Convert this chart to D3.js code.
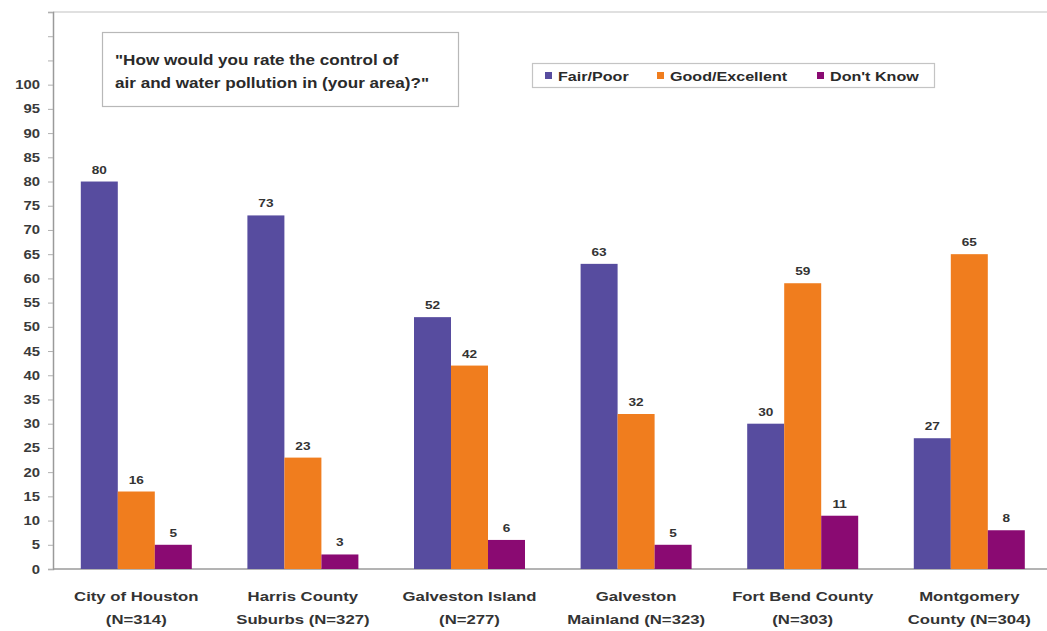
<!DOCTYPE html>
<html>
<head>
<meta charset="utf-8">
<script src="https://cdn.jsdelivr.net/npm/d3@7/dist/d3.min.js"></script>
<style>
  html, body { margin: 0; padding: 0; background: #fff; }
  svg { display: block; }
  text { font-family: "Liberation Sans", Arial, sans-serif; font-weight: bold; }
</style>
</head>
<body>
<svg id="chart" width="1047" height="631"></svg>
<script>
// Survey regions, two-line labels under each group
const categories = ["City of Houston", "Harris County Suburbs", "Galveston Island",
                    "Galveston Mainland", "Fort Bend County", "Montgomery County"];
const categoryLines = [
  ["City of Houston", "(N=314)"],
  ["Harris County", "Suburbs (N=327)"],
  ["Galveston Island", "(N=277)"],
  ["Galveston", "Mainland (N=323)"],
  ["Fort Bend County", "(N=303)"],
  ["Montgomery", "County (N=304)"]
];
const seriesNames = ["Fair/Poor", "Good/Excellent", "Don't Know"];
const fairPoor      = [80, 73, 52, 63, 30, 27];
const goodExcellent = [16, 23, 42, 32, 59, 65];
const dontKnow      = [5, 3, 6, 5, 11, 8];
const seriesColors  = ["#574c9f", "#f07d1e", "#8a0a72"];
const yTickValues   = [0, 5, 10, 15, 20, 25, 30, 35, 40, 45, 50, 55, 60, 65, 70, 75, 80, 85, 90, 95, 100];
const titleLines = ["\"How would you rate the control of", "air and water pollution in (your area)?\""];

const seriesValues = [fairPoor, goodExcellent, dontKnow];

const svg = d3.select("#chart");
const SX = 1.24; // horizontal text stretch

function stretchedText(sel, x, y) {
  return sel.attr("transform", `translate(${x},${y}) scale(${SX},1)`);
}

const left = 53, zeroY = 569, topY = 12;
const band = 166.6;

const y = d3.scaleLinear().domain([0, 115]).range([zeroY, topY]);
const x0 = d3.scaleBand().domain(categories).range([left, left + band * 6]).padding(0);
const x1 = d3.scaleBand().domain(seriesNames).range([27.8, 138.8]).padding(0);

// plot frame: top border line
svg.append("line")
  .attr("x1", left).attr("x2", 1047).attr("y1", y(115)).attr("y2", y(115))
  .attr("stroke", "#d6d6d6").attr("stroke-width", 1.5);

// y axis
const yAxis = d3.axisLeft(y)
  .tickValues(d3.range(0, 116, 5))
  .tickSize(5)
  .tickFormat(() => "");
const yg = svg.append("g").attr("transform", `translate(${left},0)`).call(yAxis);
yg.select(".domain").attr("stroke", "#9a9a9a").attr("stroke-width", 1.5);
yg.selectAll(".tick line").attr("stroke", "#b0b0b0");

svg.append("g").selectAll("text")
  .data(yTickValues)
  .join("text")
  .each(function(d) { stretchedText(d3.select(this), 40, y(d) + 4.5); })
  .attr("text-anchor", "end")
  .attr("font-size", 12)
  .attr("fill", "#3a3a3a")
  .text(d => d);

// x axis baseline
svg.append("line")
  .attr("x1", left).attr("x2", 1047).attr("y1", zeroY).attr("y2", zeroY)
  .attr("stroke", "#9a9a9a").attr("stroke-width", 1.5);

// bars
const groups = svg.append("g").selectAll("g")
  .data(categories)
  .join("g")
  .attr("transform", d => `translate(${x0(d)},0)`);

groups.each(function(cat, i) {
  const g = d3.select(this);
  const rows = seriesNames.map((s, k) => ({ s, k, v: seriesValues[k][i] }));
  g.selectAll("rect")
    .data(rows)
    .join("rect")
    .attr("x", d => x1(d.s))
    .attr("width", x1.bandwidth())
    .attr("y", d => y(d.v))
    .attr("height", d => zeroY - y(d.v))
    .attr("fill", d => seriesColors[d.k]);
  g.selectAll("text.val")
    .data(rows)
    .join("text")
    .attr("class", "val")
    .each(function(d) { stretchedText(d3.select(this), x1(d.s) + x1.bandwidth() / 2, y(d.v) - 8); })
    .attr("text-anchor", "middle")
    .attr("font-size", 11)
    .attr("fill", "#333")
    .text(d => d.v);
});

// category labels
const catLabels = svg.append("g").selectAll("g")
  .data(categories)
  .join("g");
catLabels.each(function(cat, i) {
  const cx = x0(cat) + 27.8 + 111 / 2;
  const g = d3.select(this);
  categoryLines[i].forEach((line, j) => {
    g.append("text")
      .call(s => stretchedText(s, cx, 601 + j * 23))
      .attr("text-anchor", "middle")
      .attr("font-size", 13.5)
      .attr("fill", "#333")
      .text(line);
  });
});

// question box
svg.append("rect")
  .attr("x", 102.5).attr("y", 32.5).attr("width", 356).attr("height", 74)
  .attr("fill", "#fff").attr("stroke", "#b8b8b8").attr("stroke-width", 1.2);
titleLines.forEach((line, j) => {
  svg.append("text")
    .call(s => stretchedText(s, 115, 65 + j * 23))
    .attr("font-size", 13.8)
    .attr("fill", "#2a2a2a")
    .text(line);
});

// legend
svg.append("rect")
  .attr("x", 532.5).attr("y", 63.5).attr("width", 402).attr("height", 24)
  .attr("fill", "#fff").attr("stroke", "#c4c4c4").attr("stroke-width", 1.2);
const legendX = [545, 657, 817];
seriesNames.forEach((name, k) => {
  svg.append("rect")
    .attr("x", legendX[k]).attr("y", 72).attr("width", 7).attr("height", 7)
    .attr("fill", seriesColors[k]);
  svg.append("text")
    .call(s => stretchedText(s, legendX[k] + 13, 80.5))
    .attr("font-size", 13)
    .attr("fill", "#2a2a2a")
    .text(name);
});
</script>
</body>
</html>
